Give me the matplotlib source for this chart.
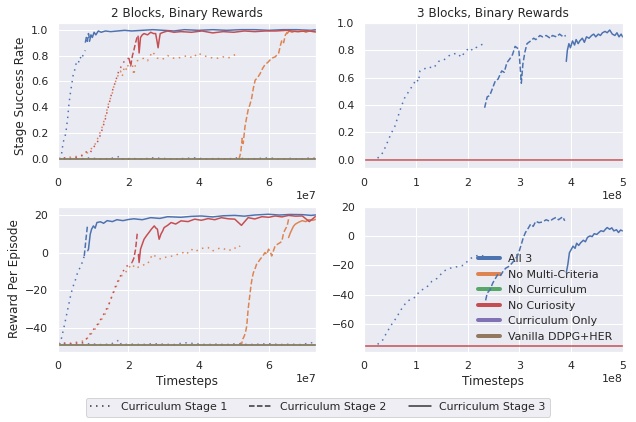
import matplotlib
matplotlib.use("Agg")
import matplotlib.pyplot as plt
from matplotlib.lines import Line2D
import numpy as np
import seaborn as sns

# ---------------- data ----------------
# 2 blocks: x in units of 1e6 timesteps, 3 blocks: x in units of 1e7
# each run is split in curriculum stage 1 (dotted), 2 (dashed), 3 (solid)

# 2 Blocks, success rate
succ2_blue_s1_x = [0.5, 1.0, 1.5, 2.0, 2.3, 2.8, 3.1, 3.4, 3.9, 4.4, 4.8, 5.2, 5.7, 6.3, 6.8, 7.3, 7.8]
succ2_blue_s1_y = [0.0, 0.03, 0.13, 0.17, 0.21, 0.32, 0.41, 0.48, 0.57, 0.66, 0.69, 0.74, 0.73, 0.79, 0.77, 0.82, 0.84]
succ2_blue_s2_x = [7.8, 8.1, 8.4, 8.7, 9.0]
succ2_blue_s2_y = [0.90, 0.94, 0.91, 0.97, 0.93]
succ2_blue_s3_x = [9.0, 9.4, 9.8, 10.3, 10.8, 11.5, 12.3, 13.5, 15, 17, 19, 21, 24, 27, 30, 33, 36, 40,
                   44, 48, 52, 56, 60, 64, 68, 72, 73.5]
succ2_blue_s3_y = [0.91, 0.96, 0.94, 0.98, 0.96, 0.99, 0.98, 0.99, 0.985, 0.99, 0.995, 0.99, 0.995, 1.0,
                   0.995, 0.99, 1.0, 0.995, 1.0, 0.995, 1.0, 1.0, 0.995, 1.0, 1.0, 0.995, 1.0]

succ2_red_s1_x = [0, 2, 4, 6, 7.3, 8.2, 9.2, 10.1, 11.0, 11.6, 12.5, 13.5, 14.5, 15.4, 16.4, 17.3, 18.3, 19.2, 20.2]
succ2_red_s1_y = [0.0, 0.01, 0.0, 0.02, 0.03, 0.06, 0.05, 0.09, 0.12, 0.15, 0.22, 0.31, 0.42, 0.52, 0.6, 0.68,
                  0.73, 0.77, 0.78]
succ2_red_s2_x = [20.2, 20.7, 21.2, 21.6, 22.1, 22.6]
succ2_red_s2_y = [0.78, 0.72, 0.80, 0.84, 0.90, 0.95]
succ2_red_s3_x = [22.8, 23.1, 23.5, 24.0, 24.5, 25.5, 26.4, 27.2, 27.8, 28.2, 28.5, 28.8, 29.1, 30, 31.2, 33,
                  35, 38, 41, 44, 47, 50, 53, 56, 59, 62, 65, 68, 71, 73.5]
succ2_red_s3_y = [0.95, 0.82, 0.94, 0.96, 0.97, 0.96, 0.98, 0.97, 0.97, 0.91, 0.86, 0.92, 0.97, 0.98, 0.99,
                  0.98, 0.985, 0.98, 0.99, 0.975, 0.985, 0.98, 0.99, 0.985, 0.99, 0.99, 0.995, 0.985, 0.99, 0.985]

succ2_orange_s1_x = [0, 2, 4, 6, 7.5, 8.5, 9.5, 10.5, 11.5, 12.5, 13.5, 14.5, 15.4, 15.9, 16.8, 17.4, 17.8,
                     18.3, 18.8, 19.3, 19.7, 20.2, 21.1, 21.6, 22.1, 22.6, 23.5, 24.5, 25.5, 26.9, 28.3, 29.7,
                     31.2, 32.6, 34.1, 35.5, 36.9, 38.4, 39.8, 41.3, 42.7, 44.1, 45.5, 47.0, 48.4, 49.9, 51.3]
succ2_orange_s1_y = [0.01, 0.0, 0.02, 0.02, 0.04, 0.05, 0.08, 0.11, 0.17, 0.24, 0.33, 0.44, 0.5, 0.56, 0.63,
                     0.66, 0.68, 0.64, 0.70, 0.68, 0.73, 0.71, 0.75, 0.65, 0.74, 0.76, 0.77, 0.78, 0.76, 0.83,
                     0.78, 0.77, 0.80, 0.78, 0.78, 0.79, 0.80, 0.78, 0.82, 0.80, 0.79, 0.78, 0.78, 0.79, 0.78,
                     0.80, 0.82]
succ2_orange_s2_x = [51.5, 52.0, 52.4, 52.7, 53.2, 53.6, 54.1, 54.6, 55.1, 55.6, 56.1, 56.8, 57.5, 58.2, 58.9,
                     59.8, 60.8, 61.8, 62.8, 63.2, 63.7, 64.2, 64.7, 65.2]
succ2_orange_s2_y = [0.0, 0.05, 0.16, 0.12, 0.25, 0.31, 0.38, 0.42, 0.47, 0.55, 0.61, 0.63, 0.66, 0.7, 0.73,
                     0.75, 0.78, 0.79, 0.82, 0.87, 0.92, 0.9, 0.96, 0.98]
succ2_orange_s3_x = [65.2, 65.8, 66.6, 67.5, 68.5, 69.5, 70.5, 71.5, 72.5, 73.5]
succ2_orange_s3_y = [0.97, 0.99, 0.98, 0.99, 0.985, 0.995, 0.98, 0.99, 0.985, 0.98]

base2_x = [0, 10, 20, 30, 40, 50, 60, 73.5]
succ2_flat_y = [0.0, 0.0, 0.0, 0.0, 0.0, 0.0, 0.0, 0.0]
purple2_x = [0, 3, 6, 9, 12, 15, 17.5, 18, 21, 24, 27, 30, 33, 36, 39, 42, 45, 48, 51, 54, 57, 60, 63, 66,
             69, 72, 73.5]
succ2_purple_y = [0.0, 0.005, 0.0, 0.01, 0.0, 0.005, 0.02, 0.0, 0.005, 0.0, 0.01, 0.005, 0.0, 0.005, 0.01,
                  0.0, 0.005, 0.0, 0.01, 0.0, 0.005, 0.01, 0.0, 0.005, 0.0, 0.01, 0.005]

# 2 Blocks, reward per episode
rew2_blue_s1_x = [0.5, 1.05, 1.8, 2.5, 3.0, 3.6, 4.2, 4.9, 5.6, 6.3, 7.1, 7.5]
rew2_blue_s1_y = [-49, -45.4, -39.2, -32.9, -28.5, -23.1, -18.7, -15.1, -10.7, -8.0, -4.5, -1.8]
rew2_blue_s2_x = [7.5, 7.8, 8.0, 8.2, 8.4]
rew2_blue_s2_y = [-1.8, 3.6, 7.5, 10.7, 14.2]
rew2_blue_s3_x = [8.5, 8.7, 9.2, 9.6, 10.1, 10.6, 11.1, 12.1, 13, 14, 15.5, 16.8, 18.5, 20, 21.6, 24, 26.4, 29,
                  31.2, 35, 38, 40.8, 44, 47, 50.3, 53, 56, 59.9, 63, 66, 69.5, 72, 73.5]
rew2_blue_s3_y = [1.0, 1.8, 9.8, 12.5, 14.2, 13.0, 16.0, 16.4, 15.6, 17.0, 16.5, 17.5, 17.0, 17.6, 18.0, 17.5,
                  18.6, 18.2, 19.1, 18.8, 19.3, 19.5, 19.0, 19.6, 19.8, 19.4, 20.0, 20.4, 20.0, 20.3, 20.2,
                  19.8, 20.1]

rew2_red_s1_x = [0, 2, 4, 6, 7.3, 8.7, 10.1, 11.6, 13.0, 14.5, 15.4, 16.4, 17.3, 18.3, 19.2, 20.2, 21.1]
rew2_red_s1_y = [-48.5, -48.2, -48.6, -48.0, -48.0, -44.5, -41.0, -37.4, -32.9, -27.6, -23.1, -17.8, -14.2,
                 -10.7, -8.0, -6.2, -5.3]
rew2_red_s2_x = [21.1, 21.6, 22.1, 22.6]
rew2_red_s2_y = [-5.3, -3.0, 1.8, 10.7]
rew2_red_s3_x = [22.9, 23.1, 23.5, 24.0, 24.5, 25.2, 25.9, 26.6, 27.4, 27.9, 28.3, 28.6, 28.8, 29.3, 29.8,
                 30.2, 31.2, 32.2, 33.5, 35, 37, 38.9, 40.8, 42.7, 44.6, 46.5, 48.4, 50.3, 52.2, 54.1, 56,
                 58, 60, 61.8, 63.7, 65.6, 67.5, 69.5, 71.5, 73.5]
rew2_red_s3_y = [-1.0, -5.3, 1.8, 4.5, 7.1, 9.0, 10.7, 12.5, 14.2, 13.0, 12.5, 9.0, 7.1, 9.8, 11.5, 13.3,
                 14.5, 16.0, 15.2, 16.9, 16.5, 17.8, 17.2, 18.1, 17.5, 18.6, 18.0, 17.8, 14.5, 18.6, 17.9,
                 19.1, 18.8, 19.5, 19.0, 19.8, 19.4, 19.5, 16.5, 19.6]

rew2_orange_s1_x = [0, 2, 4, 6, 7.5, 8.7, 10.1, 11.6, 13.0, 14.0, 14.5, 15.4, 16.4, 17.3, 18.3, 19.2, 20.2,
                    21.1, 22.1, 23.5, 24.5, 25.5, 26.9, 28.3, 29.3, 30.2, 31.7, 33.1, 34.5, 35.5, 36.5, 37.9,
                    39.0, 40.3, 41.5, 42.7, 43.9, 45.1, 46.3, 47.5, 48.7, 49.9, 51.0, 51.8]
rew2_orange_s1_y = [-48.0, -48.5, -48.2, -47.5, -47.0, -45.0, -42.0, -38.0, -34.0, -31.0, -27.6, -23.1,
                    -19.0, -15.0, -12.0, -10.7, -8.0, -6.2, -8.5, -7.1, -6.5, -6.2, -0.9, -2.7, -3.5, -2.7,
                    -2.0, -1.8, -0.5, 0.0, -1.0, 1.8, 0.5, 1.8, 2.5, 2.7, 0.8, 1.8, 2.5, 1.8, 1.0, 2.7, 2.0,
                    3.6]
rew2_orange_s2_x = [51.8, 52.2, 52.6, 53.0, 53.4, 53.7, 54.1, 54.5, 54.9, 55.2, 55.6, 56.0, 56.5, 57.0, 57.5,
                    58.2, 58.9, 59.4, 59.9, 60.4, 60.8, 61.3, 61.8, 62.5, 63.2, 63.7, 64.2, 64.7, 65.2, 65.6]
rew2_orange_s2_y = [-48.0, -49.0, -46.0, -44.5, -42.0, -39.2, -30.3, -24.0, -17.8, -14.0, -10.7, -9.0, -6.2,
                    -5.0, -3.6, -2.0, 0.0, -1.0, 1.8, 0.5, -1.8, 1.0, 3.6, 4.5, 5.3, 6.0, 10.7, 12.5, 14.2,
                    17.8]
rew2_orange_s3_x = [65.6, 66.1, 66.6, 67.0, 67.5, 68.5, 69.5, 70.5, 71.4, 72.5, 73.5]
rew2_orange_s3_y = [8.0, 10.5, 12.5, 14.0, 15.1, 16.2, 17.0, 16.5, 17.5, 17.2, 17.8]

rew2_flat_y = [-49.3, -49.3, -49.3, -49.3, -49.3, -49.3, -49.3, -49.3]
rew2_purple_y = [-49.0, -48.8, -49.0, -48.5, -49.0, -48.8, -46.5, -49.0, -48.8, -49.0, -48.5, -48.8, -49.0,
                 -48.0, -48.5, -49.0, -48.8, -49.0, -48.5, -49.0, -48.8, -48.5, -49.0, -48.8, -49.0, -48.0,
                 -48.8]

# 3 Blocks, success rate
succ3_blue_s1_x = [2.6, 3.6, 4.2, 5.2, 5.9, 6.5, 7.2, 7.8, 8.8, 9.5, 10.1, 10.5, 10.8, 11.4, 12.4, 13.4,
                   14.4, 15.4, 16.7, 18.0, 18.8, 19.3, 20.3, 21.0, 21.6, 22.6, 23.6]
succ3_blue_s1_y = [0.01, 0.05, 0.10, 0.19, 0.24, 0.31, 0.39, 0.45, 0.51, 0.55, 0.59, 0.57, 0.65, 0.66, 0.68,
                   0.67, 0.72, 0.73, 0.77, 0.78, 0.75, 0.78, 0.82, 0.80, 0.82, 0.84, 0.86]
succ3_blue_s2_x = [23.3, 23.8, 24.3, 24.9, 25.4, 25.9, 26.6, 27.1, 27.6, 28.2, 28.7, 29.2, 29.9, 30.1, 30.4,
                   30.7, 31.1, 31.5, 32.2, 32.8, 33.2, 34.0, 34.5, 35.2, 36.0, 36.4, 37.2, 37.8, 38.5, 39.0]
succ3_blue_s2_y = [0.38, 0.46, 0.47, 0.53, 0.58, 0.59, 0.65, 0.64, 0.71, 0.74, 0.77, 0.83, 0.81, 0.72, 0.56,
                   0.70, 0.79, 0.85, 0.87, 0.89, 0.88, 0.91, 0.90, 0.91, 0.89, 0.91, 0.90, 0.92, 0.90, 0.91]
succ3_blue_s3_x = [39.1, 39.3, 39.6, 39.9, 40.3, 40.7, 41.0, 41.4, 41.7, 42.2, 42.6, 43.0, 43.5, 44.0, 44.4,
                   44.8, 45.3, 45.7, 46.1, 46.6, 47.0, 47.5, 48.0, 48.5, 48.9, 49.3, 49.7, 50.0]
succ3_blue_s3_y = [0.72, 0.80, 0.85, 0.82, 0.87, 0.84, 0.88, 0.85, 0.87, 0.89, 0.86, 0.90, 0.89, 0.91, 0.92,
                   0.90, 0.92, 0.91, 0.93, 0.94, 0.93, 0.95, 0.92, 0.91, 0.93, 0.90, 0.92, 0.90]
base3_x = [0, 10, 20, 30, 40, 50]
succ3_red_y = [0.0, 0.0, 0.0, 0.0, 0.0, 0.0]

# 3 Blocks, reward per episode
rew3_blue_s1_x = [2.6, 3.6, 4.2, 5.2, 6.2, 7.2, 8.2, 9.1, 10.1, 10.6, 11.1, 12.1, 13.1, 14.1, 15.4, 16.7,
                  18.0, 19.3, 20.3, 21.3, 22.3, 23.3]
rew3_blue_s1_y = [-74, -71, -67, -61, -56, -50, -45, -43, -41.5, -38, -37, -35, -31, -29, -24, -22, -21, -20,
                  -16, -14, -13, -14]
rew3_blue_s2_x = [23.5, 23.8, 24.3, 24.9, 25.4, 25.9, 26.4, 26.9, 27.4, 27.9, 28.5, 29.2, 29.6, 29.9, 30.2,
                  30.5, 30.8, 31.2, 31.7, 32.2, 32.7, 33.2, 33.8, 34.5, 35.2, 35.9, 36.5, 37.1, 37.6, 38.4,
                  38.8]
rew3_blue_s2_y = [-44, -39, -37, -32, -29, -26, -27, -24, -22, -21, -19, -16, -14, -11.5, -8, -4.6, -1, 2.3,
                  5, 8, 6.5, 10, 9, 9.5, 11, 10, 11.5, 12.6, 11, 13, 10.3]
rew3_blue_s3_x = [39.1, 39.4, 39.7, 40.1, 40.4, 40.8, 41.1, 41.5, 41.9, 42.4, 42.8, 43.2, 43.7, 44.1, 44.5,
                  45.0, 45.4, 45.8, 46.3, 46.7, 47.0, 47.5, 47.9, 48.3, 48.8, 49.2, 49.6, 50.0]
rew3_blue_s3_y = [-25, -19.5, -11.5, -9, -7, -8.5, -5, -6.5, -4.6, -3, -4, -1, 0, -0.5, 1.5, 1, 2.3, 3.5, 3,
                  4.6, 5.7, 4.5, 5.5, 3.4, 4.2, 2.3, 4, 3.4]
rew3_red_y = [-74.8, -74.8, -74.8, -74.8, -74.8, -74.8]

run_labels = ["All 3", "No Multi-Criteria", "No Curriculum", "No Curiosity",
              "Curriculum Only", "Vanilla DDPG+HER"]
stage_labels = ["Curriculum Stage 1", "Curriculum Stage 2", "Curriculum Stage 3"]

# ---------------- plotting ----------------
sns.set()
palette = sns.color_palette("deep")
BLUE, ORANGE, GREEN, RED, PURPLE, BROWN = palette[:6]
DOTTED = (0, (1, 3))
STAGE_STYLES = [DOTTED, "--", "-"]


def plot_run(ax, stages, color, scale):
    # stages = [(x1, y1), (x2, y2), (x3, y3)], one per curriculum stage
    for (x, y), ls in zip(stages, STAGE_STYLES):
        ax.plot(np.array(x) * scale, y, ls=ls, color=color, lw=1.5)


fig, axes = plt.subplots(2, 2, figsize=(636 / 72, 422 / 72), dpi=72)
fig.subplots_adjust(left=0.091, right=0.979, top=0.945, bottom=0.167, wspace=0.185, hspace=0.265)
ax_s2, ax_s3 = axes[0]
ax_r2, ax_r3 = axes[1]

# 2 blocks success
plot_run(ax_s2, [(succ2_blue_s1_x, succ2_blue_s1_y), (succ2_blue_s2_x, succ2_blue_s2_y),
                 (succ2_blue_s3_x, succ2_blue_s3_y)], BLUE, 1e6)
plot_run(ax_s2, [(succ2_orange_s1_x, succ2_orange_s1_y), (succ2_orange_s2_x, succ2_orange_s2_y),
                 (succ2_orange_s3_x, succ2_orange_s3_y)], ORANGE, 1e6)
ax_s2.plot(np.array(base2_x) * 1e6, succ2_flat_y, "-", color=GREEN, lw=1.5)
plot_run(ax_s2, [(succ2_red_s1_x, succ2_red_s1_y), (succ2_red_s2_x, succ2_red_s2_y),
                 (succ2_red_s3_x, succ2_red_s3_y)], RED, 1e6)
ax_s2.plot(np.array(purple2_x) * 1e6, succ2_purple_y, ls=DOTTED, color=PURPLE, lw=1.5)
ax_s2.plot(np.array(base2_x) * 1e6, succ2_flat_y, "-", color=BROWN, lw=1.5)

# 2 blocks reward
plot_run(ax_r2, [(rew2_blue_s1_x, rew2_blue_s1_y), (rew2_blue_s2_x, rew2_blue_s2_y),
                 (rew2_blue_s3_x, rew2_blue_s3_y)], BLUE, 1e6)
plot_run(ax_r2, [(rew2_orange_s1_x, rew2_orange_s1_y), (rew2_orange_s2_x, rew2_orange_s2_y),
                 (rew2_orange_s3_x, rew2_orange_s3_y)], ORANGE, 1e6)
ax_r2.plot(np.array(base2_x) * 1e6, rew2_flat_y, "-", color=GREEN, lw=1.5)
plot_run(ax_r2, [(rew2_red_s1_x, rew2_red_s1_y), (rew2_red_s2_x, rew2_red_s2_y),
                 (rew2_red_s3_x, rew2_red_s3_y)], RED, 1e6)
ax_r2.plot(np.array(purple2_x) * 1e6, rew2_purple_y, ls=DOTTED, color=PURPLE, lw=1.5)
ax_r2.plot(np.array(base2_x) * 1e6, rew2_flat_y, "-", color=BROWN, lw=1.5)

# 3 blocks success / reward
plot_run(ax_s3, [(succ3_blue_s1_x, succ3_blue_s1_y), (succ3_blue_s2_x, succ3_blue_s2_y),
                 (succ3_blue_s3_x, succ3_blue_s3_y)], BLUE, 1e7)
ax_s3.plot(np.array(base3_x) * 1e7, succ3_red_y, "-", color=RED, lw=1.5)
plot_run(ax_r3, [(rew3_blue_s1_x, rew3_blue_s1_y), (rew3_blue_s2_x, rew3_blue_s2_y),
                 (rew3_blue_s3_x, rew3_blue_s3_y)], BLUE, 1e7)
ax_r3.plot(np.array(base3_x) * 1e7, rew3_red_y, "-", color=RED, lw=1.5)

# axes cosmetics
ax_s2.set_xlim(0, 7.35e7)
ax_r2.set_xlim(0, 7.35e7)
ax_s3.set_xlim(0, 5e8)
ax_r3.set_xlim(0, 5e8)
ax_s2.set_ylim(-0.07, 1.05)
ax_s3.set_ylim(-0.063, 1.0)
ax_r2.set_ylim(-52.7, 24.5)
ax_r3.set_ylim(-78.9, 20)
ax_r2.set_yticks([-40, -20, 0, 20])
ax_r3.set_yticks([-60, -40, -20, 0, 20])

ax_s2.set_title("2 Blocks, Binary Rewards")
ax_s3.set_title("3 Blocks, Binary Rewards")
ax_s2.set_ylabel("Stage Success Rate")
ax_r2.set_ylabel("Reward Per Episode")
ax_r2.set_xlabel("Timesteps")
ax_r3.set_xlabel("Timesteps")

# run legend (sits under the curves)
run_handles = [Line2D([], [], color=c, lw=4) for c in palette[:6]]
leg = ax_r3.legend(run_handles, run_labels, loc="lower right", frameon=False)
leg.set_zorder(1.5)

# stage legend at the bottom of the figure
stage_handles = [Line2D([], [], color=".2", ls=ls, lw=1.5) for ls in STAGE_STYLES]
fig.legend(stage_handles, stage_labels, loc="lower center", bbox_to_anchor=(0.5, 0.0), ncol=3)

plt.savefig("out.png", dpi=72)
